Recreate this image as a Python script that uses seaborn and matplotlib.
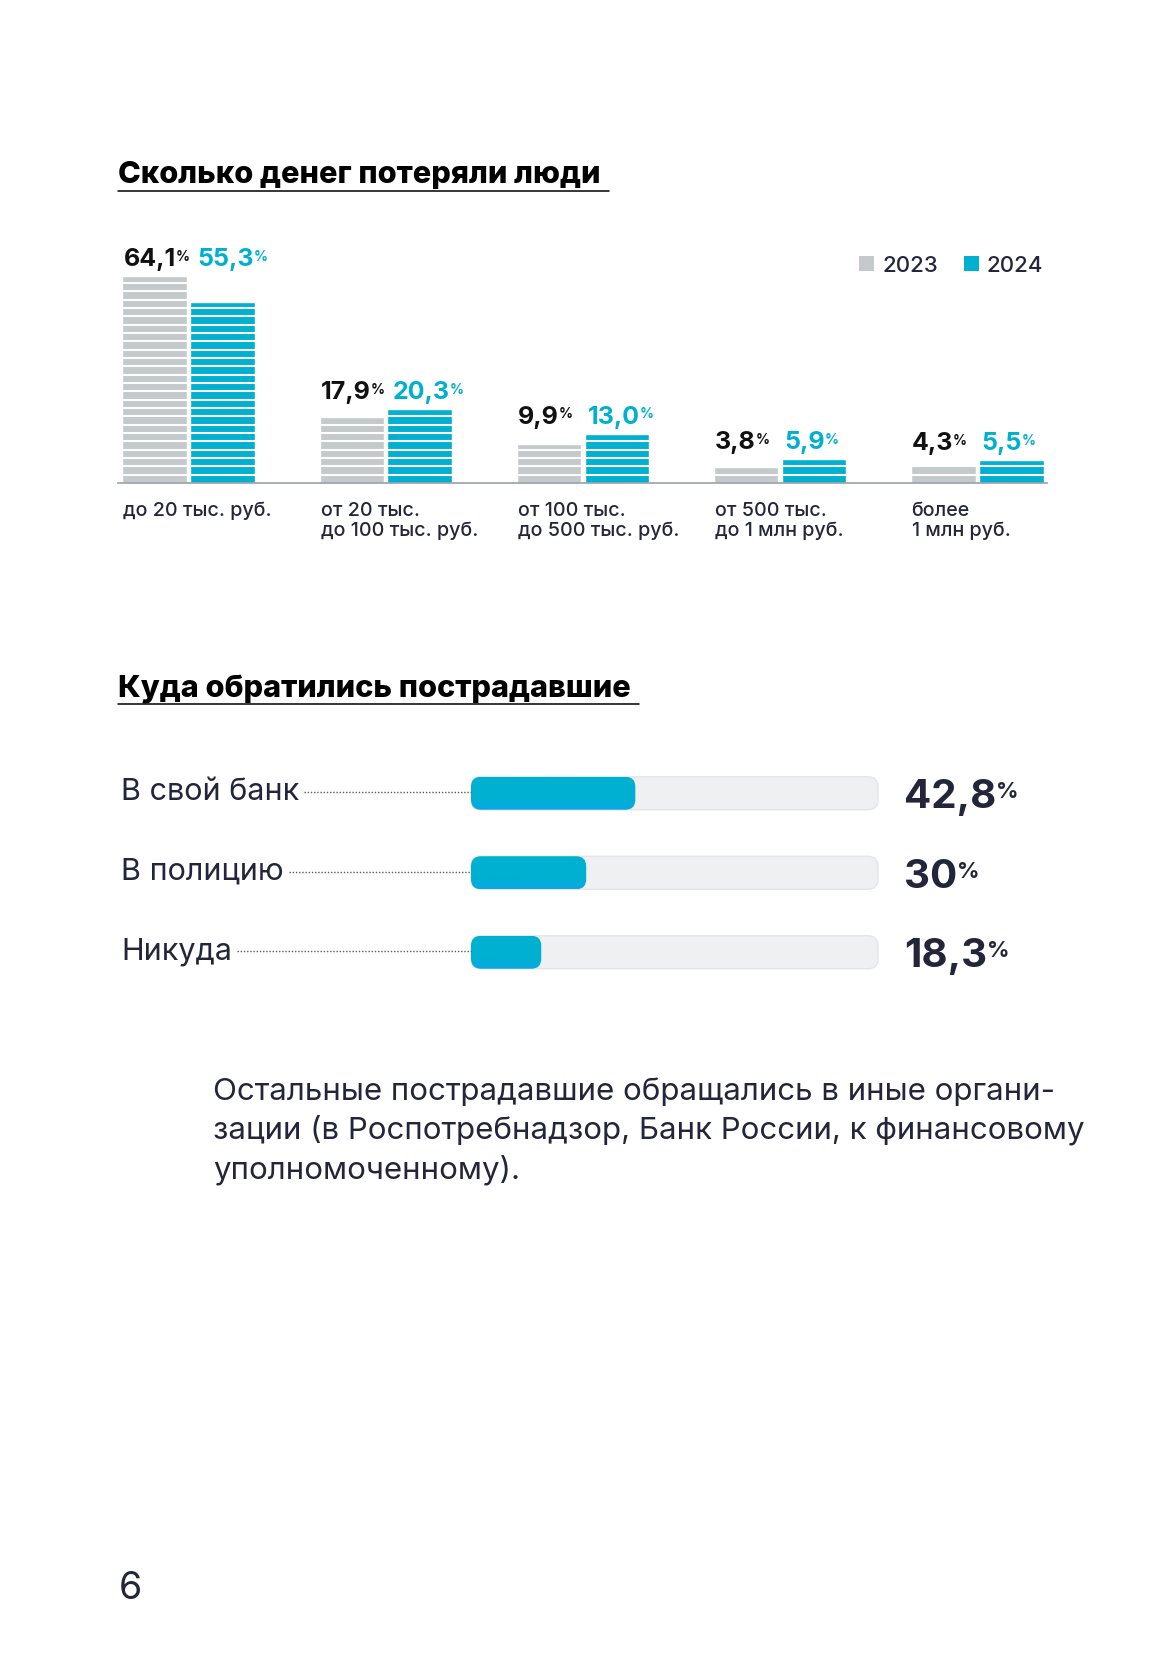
import numpy as np
import pandas as pd
import seaborn as sns
import matplotlib.pyplot as plt
from matplotlib.patches import FancyBboxPatch, Rectangle
from matplotlib.lines import Line2D
from matplotlib.transforms import IdentityTransform
from matplotlib.colors import LinearSegmentedColormap

# данные
categories = ['до 20 тыс. руб.', 'от 20 тыс.\nдо 100 тыс. руб.', 'от 100 тыс.\nдо 500 тыс. руб.',
              'от 500 тыс.\nдо 1 млн руб.', 'более\n1 млн руб.']
years = ['2023', '2024']
loss_2023 = [64.1, 17.9, 9.9, 3.8, 4.3]
loss_2024 = [55.3, 20.3, 13.0, 5.9, 5.5]

appeal_labels = ['В свой банк', 'В полицию', 'Никуда']
appeal_values = [42.8, 30, 18.3]

title_1 = 'Сколько денег потеряли люди'
title_2 = 'Куда обратились пострадавшие'
note = ('Остальные пострадавшие обращались в иные органи-\n'
        'зации (в Роспотребнадзор, Банк России, к финансовому\n'
        'уполномоченному).')
page_no = '6'

GRAY = '#c4c9cc'
BLUE = '#00b0d0'
INK = '#23263a'

W, H = 1165, 1654
sns.set_theme(style='white')
plt.rcParams['font.family'] = ['Inter', 'DejaVu Sans']

fig = plt.figure(figsize=(W / 100, H / 100), dpi=100)
fig.patch.set_facecolor('white')
ID = IdentityTransform()


def px(x, y_top):
    # пиксели от верхнего левого угла -> координаты дисплея
    return x, H - y_top


def fmt(v):
    return f'{v:.1f}'.replace('.', ',')


# ---------- столбики ----------
ax1 = fig.add_axes([118 / W, 1 - 483 / H, 929 / W, 253 / H])
df = pd.DataFrame({
    'category': categories * 2,
    'year': [years[0]] * len(categories) + [years[1]] * len(categories),
    'value': loss_2023 + loss_2024,
})
sns.barplot(data=df, x='category', y='value', hue='year', order=categories, hue_order=years,
            palette={'2023': GRAY, '2024': BLUE}, saturation=1, width=0.69, gap=0.045,
            legend=False, ax=ax1)
ax1.set_yscale('function', functions=(lambda v: np.sign(v) * np.abs(v) ** 0.9,
                                      lambda v: np.sign(v) * np.abs(v) ** (1 / 0.9)))
ax1.set_ylim(0, 80)
ax1.set_xlim(-0.36, 4.355)
ax1.set_xticks([])
ax1.set_yticks([])
ax1.set_xlabel('')
ax1.set_ylabel('')
for s in ['top', 'left', 'right']:
    ax1.spines[s].set_visible(False)
ax1.spines['bottom'].set_color('#9ba1a6')
ax1.spines['bottom'].set_linewidth(1.2)
ax1.patch.set_alpha(0)

# белые полоски
step = 8.33 / 253
ax1.hlines(np.arange(step, 1, step), 0, 1, transform=ax1.transAxes, colors='white', lw=1.5, zorder=3)

fig.canvas.draw()
r = fig.canvas.get_renderer()


def pct_label(x, y, num, size, color, psize, weight='bold'):
    t = fig.text(x, y, num, transform=ID, fontsize=size, fontweight=weight, color=color,
                 ha='left', va='baseline', zorder=5)
    bb = t.get_window_extent(r)
    p = fig.text(bb.x1, bb.y1 - size * 0.1, '%', transform=ID, fontsize=psize, fontweight=weight,
                 color=color, ha='left', va='top', zorder=5)
    return p.get_window_extent(r).x1


bars_23 = sorted(ax1.containers[0], key=lambda b: b.get_x())
bars_24 = sorted(ax1.containers[1], key=lambda b: b.get_x())
for cat, b23, b24, v23, v24 in zip(categories, bars_23, bars_24, loss_2023, loss_2024):
    e23 = b23.get_window_extent(r)
    e24 = b24.get_window_extent(r)
    top = max(e23.y1, e24.y1) + 10
    end = pct_label(e23.x0 + 1, top, fmt(v23), 18, '#111111', 10)
    pct_label(max(e24.x0 + 3, end + 8), top, fmt(v24), 18, BLUE, 10)
    fig.text(e23.x0 + 1, H - 502, cat, transform=ID, fontsize=14.2, fontweight='medium', color=INK,
             ha='left', va='top', linespacing=1.08)

# легенда
for (sx, tx), yr, c in zip([(859, 882), (964, 986)], years, [GRAY, BLUE]):
    fig.patches.append(Rectangle(px(sx, 271), 15, 15, transform=ID, facecolor=c, edgecolor='none'))
    fig.text(*px(tx, 264), yr, transform=ID, fontsize=16, fontweight='medium', color=INK,
             ha='left', va='center_baseline')

# ---------- заголовки ----------
for title, yc, yl in [(title_1, 172, 191), (title_2, 686, 704)]:
    t = fig.text(*px(118, yc), title, transform=ID, fontsize=22.1, fontweight='heavy', color='black',
                 ha='left', va='center_baseline')
    bb = t.get_window_extent(r)
    fig.add_artist(Line2D([118, bb.x1 + 8], [H - yl, H - yl], transform=ID, color='black', lw=1.1))

# ---------- горизонтальные полосы ----------
ax2 = fig.add_axes([471 / W, 1 - 992 / H, 407 / W, 238.5 / H])
sns.barplot(x=appeal_values, y=appeal_labels, orient='h', color=BLUE, saturation=1, width=0.415, ax=ax2)
ax2.set_xlim(0, 106)
ax2.set_ylim(2.5, -0.5)
ax2.axis('off')
fig.canvas.draw()
r = fig.canvas.get_renderer()

cmap = LinearSegmentedColormap.from_list('fill', ['#0aa8e6', BLUE, BLUE, BLUE])
grad = np.linspace(0, 1, 64).reshape(-1, 1)
ax_box = ax2.get_window_extent(r)
for bar, lab, val in zip(ax2.patches, appeal_labels, appeal_values):
    e = bar.get_window_extent(r)
    yc = (e.y0 + e.y1) / 2
    track = FancyBboxPatch((ax_box.x0, e.y0), ax_box.width, e.height, transform=ID,
                           boxstyle='round,pad=0,rounding_size=10', facecolor='#eef0f1',
                           edgecolor='#e3e6e8', lw=1, zorder=1, clip_on=False)
    ax2.add_patch(track)
    fill = FancyBboxPatch((e.x0, e.y0), e.width, e.height, transform=ID,
                          boxstyle='round,pad=0,rounding_size=10', facecolor='none',
                          edgecolor='none', zorder=2, clip_on=False)
    ax2.add_patch(fill)
    x0, y0 = bar.get_x(), bar.get_y()
    im = ax2.imshow(grad, extent=(x0, x0 + bar.get_width(), y0, y0 + bar.get_height()), cmap=cmap,
                    aspect='auto', zorder=2, interpolation='bilinear')
    im.set_clip_path(fill)
    bar.set_visible(False)

    t = fig.text(121, yc - 7, lab, transform=ID, fontsize=22, color=INK, ha='left', va='baseline')
    tb = t.get_window_extent(r)
    fig.add_artist(Line2D([tb.x1 + 5, ax_box.x0], [yc + 1, yc + 1], transform=ID, color='#555a66',
                          lw=1.0, ls=(0, (1, 1.3))))
    pct_label(904, yc - 15, f'{val:g}'.replace('.', ','), 29, INK, 16)
ax2.set_xlim(0, 106)
ax2.set_ylim(2.5, -0.5)

# ---------- примечание и номер страницы ----------
fig.text(*px(213, 1077), note, transform=ID, fontsize=22.5, color=INK, ha='left', va='top', linespacing=1.38)
fig.text(*px(119, 1585), page_no, transform=ID, fontsize=27, color=INK, ha='left', va='center_baseline')

fig.savefig('out.png', dpi=100, facecolor='white')
